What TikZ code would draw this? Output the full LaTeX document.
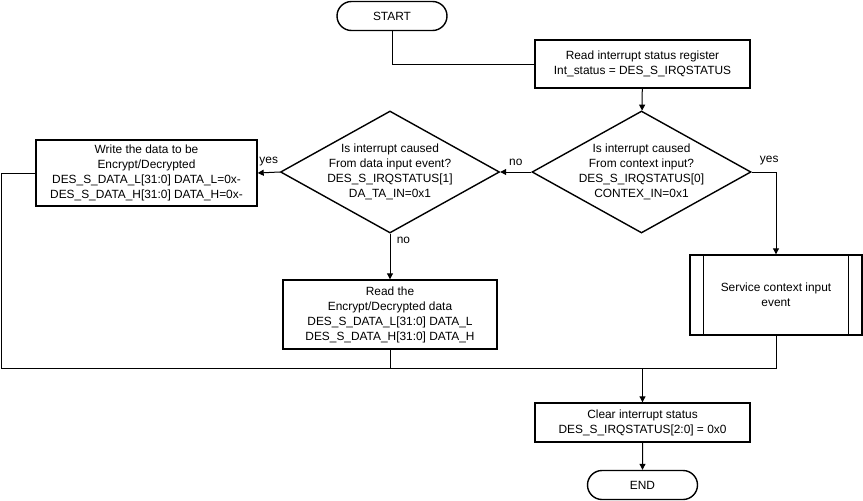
\documentclass[tikz,border=0pt]{standalone}
\usepackage{fontspec}
\setmainfont{Liberation Sans}
\usetikzlibrary{arrows.meta,positioning,shapes.geometric,shapes.misc}

\begin{document}
\begin{tikzpicture}[x=1pt,y=-1pt,
  every node/.style={font=\fontsize{11.9}{15}\selectfont},
  proc/.style={draw,line width=1.4pt,align=center,inner sep=0pt},
  term/.style={draw,rounded rectangle,line width=1.4pt,minimum width=110pt,minimum height=29pt,inner sep=0pt},
  decision/.style={draw,diamond,line width=1.4pt,minimum width=219pt,minimum height=122pt,inner sep=0pt},
  flow/.style={line width=1pt},
  arr/.style={flow,-{Triangle[length=6pt,width=6pt]}}
]
  \useasboundingbox (0,0) rectangle (863,501);

  \node[term] (start) at (392,16) {START};
  \node[proc,minimum width=215pt,minimum height=48pt] (rdst) at (642.5,64) {Read interrupt status register\\Int\_status = DES\_S\_IRQSTATUS};
  \node[decision] (ctxq) at (641.5,172) {};
  \node[align=center] at (ctxq) {Is interrupt caused\\From context input?\\DES\_S\_IRQSTATUS[0]\\CONTEX\_IN=0x1};
  \node[decision] (datq) at (390,172) {};
  \node[align=center] at (datq) {Is interrupt caused\\From data input event?\\DES\_S\_IRQSTATUS[1]\\DA\_TA\_IN=0x1};
  \node[proc,minimum width=221pt,minimum height=66pt] (wrdat) at (146.5,173) {Write the data to be\\Encrypt/Decrypted\\DES\_S\_DATA\_L[31:0] DATA\_L=0x-\\DES\_S\_DATA\_H[31:0] DATA\_H=0x-};
  \node[proc,minimum width=214pt,minimum height=69pt] (rddat) at (390,314.5) {Read the\\Encrypt/Decrypted data\\DES\_S\_DATA\_L[31:0] DATA\_L\\DES\_S\_DATA\_H[31:0] DATA\_H};
  \node[proc,minimum width=172pt,minimum height=80pt] (svc) at (776,295) {Service context input\\event};
  \node[proc,minimum width=215pt,minimum height=39pt] (clr) at (642.5,422.5) {Clear interrupt status\\DES\_S\_IRQSTATUS[2:0] = 0x0};
  \node[term] (end) at (642.5,485) {END};
  \coordinate (join) at (1,368);

  % sub-process bars
  \draw[line width=1.4pt] ([xshift=14pt]svc.north west) -- ([xshift=14pt]svc.south west);
  \draw[line width=1.4pt] ([xshift=-14pt]svc.north east) -- ([xshift=-14pt]svc.south east);

  \draw[flow] (start) |- (rdst.west);
  \draw[arr] (rdst) -- (ctxq);
  \draw[arr] (ctxq.west) -- node[above=3pt] {no} (datq.east);
  \draw[arr] (datq.west) -- node[above=3pt] {yes} (wrdat.east);
  \draw[arr] (datq.south) -- node[pos=0.15,right=3pt] {no} (rddat.north);
  \draw[arr] (ctxq.east) -| node[pos=0.36,above=3pt] {yes} (svc.north);
  \draw[flow] (wrdat.west) -| (join) -| (svc.south);
  \draw[flow] (rddat.south) -- (rddat.south |- join);
  \draw[arr] (clr.north |- join) -- (clr.north);
  \draw[arr] (clr) -- (end);
\end{tikzpicture}
\end{document}
